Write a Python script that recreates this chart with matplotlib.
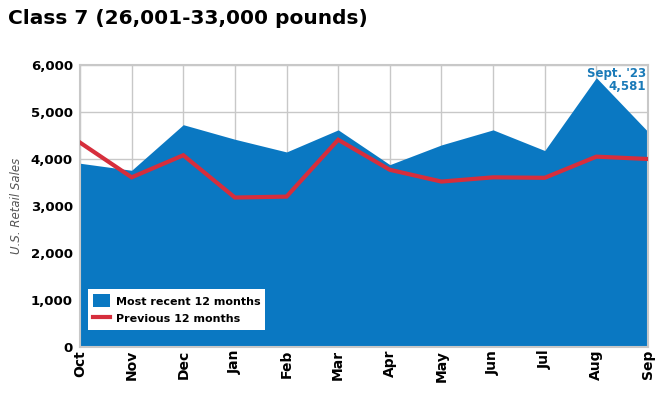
import matplotlib
matplotlib.use("Agg")
from matplotlib import pyplot as plt
from matplotlib.lines import Line2D
from matplotlib.patches import Patch
from matplotlib.ticker import FuncFormatter

plt.rcParams['font.family'] = ['Liberation Sans Narrow', 'DejaVu Sans']

months = ["Oct", "Nov", "Dec", "Jan", "Feb", "Mar", "Apr", "May", "Jun", "Jul", "Aug", "Sep"]
recent = [3910, 3760, 4730, 4420, 4150, 4620, 3880, 4300, 4620, 4180, 5730, 4581]
previous = [4350, 3610, 4080, 3180, 3200, 4410, 3770, 3520, 3610, 3600, 4050, 4000]
yticks = [0, 1000, 2000, 3000, 4000, 5000, 6000]

blue = "#0a78c2"
red = "#d62e3c"

fig = plt.figure(figsize=(6.64, 3.93), dpi=100)
ax = fig.add_axes([80/664, 1-347/393, 568/664, 282/393])

x = list(range(len(months)))
ax.fill_between(x, 0, recent, color=blue, lw=0, zorder=2)
ax.plot(x, previous, color=red, lw=3, zorder=3, solid_joinstyle='miter')

ax.set_xlim(0, len(months)-1)
ax.set_ylim(0, 6000)
ax.set_xticks(x)
ax.set_xticklabels(months, rotation=90, fontsize=10, fontweight='bold')
ax.set_yticks(yticks)
ax.yaxis.set_major_formatter(FuncFormatter(lambda v, p: f"{int(v):,}"))
for lab in ax.get_yticklabels():
    lab.set_fontsize(9.5)
    lab.set_fontweight('bold')
ax.tick_params(axis='y', length=0, pad=5)
ax.tick_params(axis='x', length=0, pad=2)
ax.grid(True, color="#c8c8c8", lw=1, zorder=1)
ax.set_axisbelow(True)
for s in ax.spines.values():
    s.set_color("#c8c8c8")
    s.set_linewidth(1.5)

ax.set_ylabel("U.S. Retail Sales", fontsize=8.5, fontstyle='italic', color="#555555")
ax.yaxis.set_label_coords(-0.1, 0.5)

ax.text(0.996, 0.992, "Sept. '23\n4,581", transform=ax.transAxes, ha='right', va='top',
        fontsize=8.5, fontweight='bold', color="#1a7ab8", linespacing=0.95, zorder=5)

handles = [Patch(facecolor=blue, edgecolor='none'),
           Line2D([0], [0], color=red, lw=3)]
leg = ax.legend(handles, ["Most recent 12 months", "Previous 12 months"], loc='lower left',
                bbox_to_anchor=(0.005, 0.04), fontsize=8, frameon=True, fancybox=False,
                edgecolor='none', framealpha=1, handlelength=1.5, handleheight=1.4,
                handletextpad=0.5, borderpad=0.45, labelspacing=0.45)
for t in leg.get_texts():
    t.set_fontweight('bold')

fig.text(8/664, 1-19/393, "Class 7 (26,001-33,000 pounds)", fontsize=14.5, fontweight='bold',
         ha='left', va='center')

fig.savefig("out.png", dpi=100)
